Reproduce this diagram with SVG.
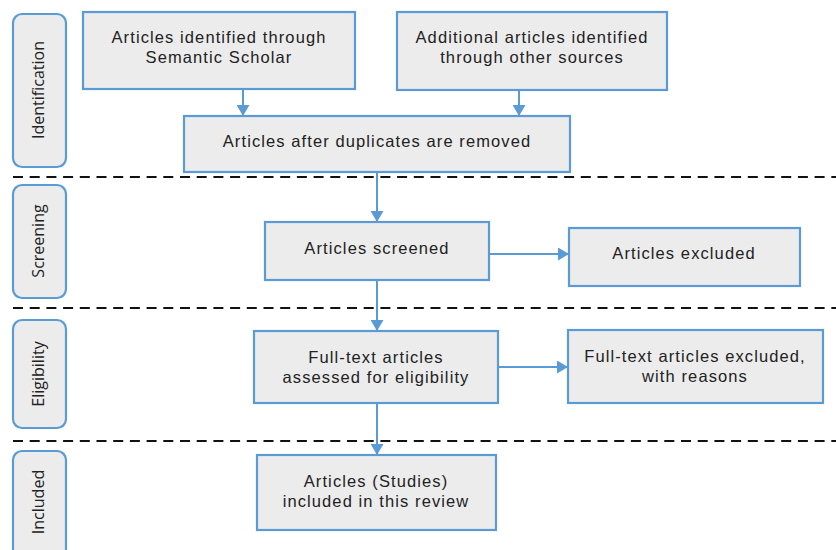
<svg xmlns="http://www.w3.org/2000/svg" width="836" height="550" viewBox="0 0 836 550">
<defs>
<marker id="ah" markerWidth="11" markerHeight="13" refX="10" refY="6.5" orient="auto" markerUnits="userSpaceOnUse">
<path d="M0,0 L11,6.5 L0,13 Z" fill="#5b9bd5"/>
</marker>
<style>
.box{fill:#ececec;stroke:#5b9bd5;stroke-width:2.2}
.side{fill:#ececec;stroke:#5b9bd5;stroke-width:2.2}
.t{font-family:"Liberation Sans",Arial,sans-serif;font-size:16.5px;letter-spacing:1.1px;fill:#222;text-anchor:middle}
.s{font-family:"Open Sans","Noto Sans",sans-serif;font-size:16px;fill:#222;text-anchor:middle}
.dash{stroke:#111;stroke-width:2;stroke-dasharray:10 6.7}
.c{stroke:#5b9bd5;stroke-width:2;fill:none;marker-end:url(#ah)}
</style>
</defs>
<rect width="836" height="550" fill="#fff"/>
<g id="separators">
<line class="dash" x1="13" y1="177" x2="836" y2="177"/>
<line class="dash" x1="13" y1="308" x2="836" y2="308"/>
<line class="dash" x1="13" y1="441" x2="836" y2="441"/>
</g>
<g id="phase-identification">
<rect class="side" x="13" y="14" width="53" height="153" rx="9"/>
<text class="s" transform="translate(44,90) rotate(-90)">Identification</text>
</g>
<g id="phase-screening">
<rect class="side" x="13" y="185" width="53" height="113" rx="9"/>
<text class="s" transform="translate(44,241) rotate(-90)">Screening</text>
</g>
<g id="phase-eligibility">
<rect class="side" x="13" y="320" width="53" height="108" rx="9"/>
<text class="s" transform="translate(44,374) rotate(-90)">Eligibility</text>
</g>
<g id="phase-included">
<rect class="side" x="13" y="451" width="53" height="120" rx="9"/>
<text class="s" transform="translate(44,502) rotate(-90)">Included</text>
</g>
<g id="connectors">
<line class="c" x1="243" y1="89" x2="243" y2="115"/>
<line class="c" x1="519" y1="90" x2="519" y2="115"/>
<line class="c" x1="377" y1="172" x2="377" y2="221"/>
<line class="c" x1="489" y1="254" x2="568" y2="254"/>
<line class="c" x1="377" y1="280" x2="377" y2="330"/>
<line class="c" x1="498" y1="367" x2="567" y2="367"/>
<line class="c" x1="377" y1="403" x2="377" y2="454"/>
</g>
<g id="n-semantic">
<rect class="box" x="83" y="12" width="272" height="77"/>
<text class="t" x="219" y="43">Articles identified through</text>
<text class="t" x="219" y="63">Semantic Scholar</text>
</g>
<g id="n-additional">
<rect class="box" x="397" y="12" width="270" height="78"/>
<text class="t" x="532" y="43">Additional articles identified</text>
<text class="t" x="532" y="63">through other sources</text>
</g>
<g id="n-duplicates">
<rect class="box" x="184" y="116" width="386" height="56"/>
<text class="t" x="377" y="147">Articles after duplicates are removed</text>
</g>
<g id="n-screened">
<rect class="box" x="265" y="222" width="224" height="58"/>
<text class="t" x="377" y="254">Articles screened</text>
</g>
<g id="n-excluded">
<rect class="box" x="569" y="228" width="231" height="58"/>
<text class="t" x="684" y="259">Articles excluded</text>
</g>
<g id="n-fulltext">
<rect class="box" x="254" y="331" width="244" height="72"/>
<text class="t" x="376" y="363">Full-text articles</text>
<text class="t" x="376" y="383">assessed for eligibility</text>
</g>
<g id="n-fulltext-excluded">
<rect class="box" x="568" y="330" width="255" height="73"/>
<text class="t" x="695" y="362">Full-text articles excluded,</text>
<text class="t" x="695" y="382">with reasons</text>
</g>
<g id="n-included">
<rect class="box" x="257" y="455" width="239" height="75"/>
<text class="t" x="376" y="487">Articles (Studies)</text>
<text class="t" x="376" y="507">included in this review</text>
</g>
</svg>
